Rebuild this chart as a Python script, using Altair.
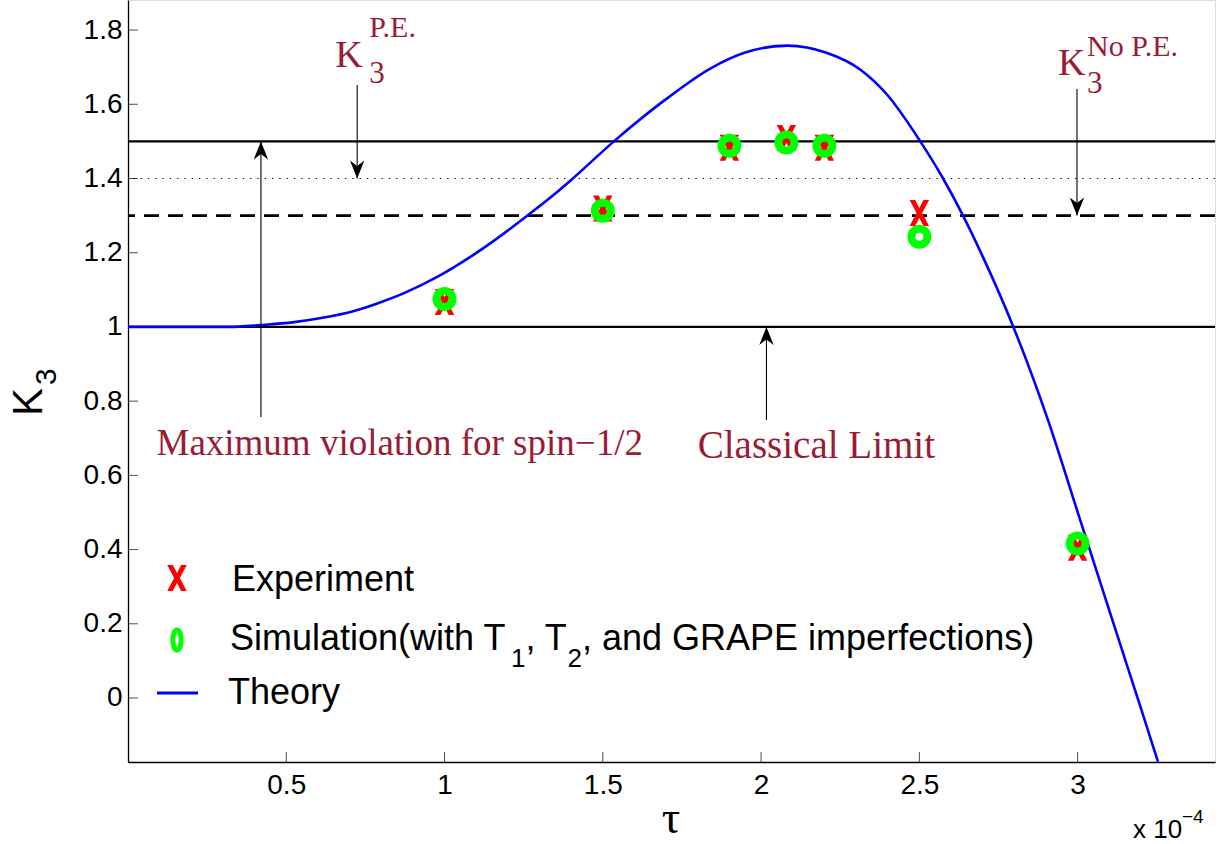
import altair as alt
import pandas as pd

# ---------------- data (tau in units of 1e-4) ----------------
theory_tau = [0.0, 0.2, 0.32, 0.42, 0.525, 0.61, 0.714, 0.79, 0.872, 0.98, 1.084, 1.188, 1.262,
              1.345, 1.40, 1.535, 1.683, 1.841, 1.945, 2.083, 2.209, 2.314, 2.399,
              2.503, 2.575, 2.638, 2.70, 2.797, 2.904, 3.008, 3.125, 3.197, 3.254]
theory_k3 = [1.0, 1.0, 1.0, 1.005, 1.013, 1.024, 1.043, 1.064, 1.091, 1.136, 1.19, 1.252, 1.30,
             1.356, 1.396, 1.50, 1.603, 1.697, 1.738, 1.758, 1.738, 1.693, 1.625,
             1.50, 1.40, 1.30, 1.19, 1.0, 0.755, 0.48, 0.17, -0.02, -0.172]

point_tau = [1.0, 1.5, 1.9, 2.08, 2.2, 2.5, 3.0]
experiment_k3 = [1.067, 1.319, 1.483, 1.509, 1.483, 1.307, 0.405]
simulation_k3 = [1.075, 1.313, 1.488, 1.497, 1.488, 1.243, 0.416]

solid_levels = [1.0, 1.5]
dotted_levels = [1.4]
dashed_levels = [1.3]

x_ticks = [0.5, 1, 1.5, 2, 2.5, 3]
y_ticks = [0, 0.2, 0.4, 0.6, 0.8, 1, 1.2, 1.4, 1.6, 1.8]

X_DOMAIN = [0, 3.434]
Y_DOMAIN = [-0.1725, 1.881]

RED_TEXT = "#9B1B36"
SERIF = "Liberation Serif"
SANS = "Liberation Sans"

theory = pd.DataFrame({"tau": theory_tau, "k3": theory_k3})
points = pd.DataFrame({"tau": point_tau, "exp": experiment_k3, "sim": simulation_k3})

xs = alt.Scale(domain=X_DOMAIN, nice=False, zero=False)
ys = alt.Scale(domain=Y_DOMAIN, nice=False, zero=False)

x_axis = alt.Axis(values=x_ticks, format="~g", title=None, ticks=False, grid=False,
                  labelFont=SANS, labelFontSize=28, labelColor="black",
                  domainColor="black", domainWidth=1.3, labelPadding=9, labelFlush=False)
y_axis = alt.Axis(values=y_ticks, format="~g", title=None, ticks=False, grid=False,
                  labelFont=SANS, labelFontSize=28, labelColor="black",
                  domainColor="black", domainWidth=1.3, labelPadding=6)

X = lambda f: alt.X(f, type="quantitative", scale=xs, axis=x_axis)
Y = lambda f: alt.Y(f, type="quantitative", scale=ys, axis=y_axis)

# reference lines
lv_solid = pd.DataFrame({"y": solid_levels})
lv_dot = pd.DataFrame({"y": dotted_levels})
lv_dash = pd.DataFrame({"y": dashed_levels})
solid = alt.Chart(lv_solid).mark_rule(color="black", strokeWidth=2.3).encode(y=Y("y"))
dotted = alt.Chart(lv_dot).mark_rule(color="black", strokeWidth=1.2, strokeDash=[1.3, 6]).encode(y=Y("y"))
dashed = alt.Chart(lv_dash).mark_rule(color="black", strokeWidth=2.6, strokeDash=[15, 9]).encode(y=Y("y"))

# inward ticks
xt = alt.Chart(pd.DataFrame({"t": x_ticks})).mark_tick(
    orient="vertical", size=10, thickness=1, color="black").encode(x=X("t"), y=alt.value(757))
yt = alt.Chart(pd.DataFrame({"t": y_ticks})).mark_tick(
    orient="horizontal", size=10, thickness=1, color="black").encode(y=Y("t"), x=alt.value(5))

# theory curve
line = alt.Chart(theory).mark_line(color="#0000FF", strokeWidth=2.6, interpolate="monotone",
                                   clip=True).encode(x=X("tau"), y=Y("k3"))

X_SHAPE = "M-0.75,-1 L-0.32,-1 L0,-0.38 L0.32,-1 L0.75,-1 L0.22,0 L0.75,1 L0.32,1 L0,0.38 L-0.32,1 L-0.75,1 L-0.22,0 Z"
exp_pts = alt.Chart(points).mark_point(shape=X_SHAPE, filled=True, color="#FF0000",
                                       size=676, opacity=1).encode(x=X("tau"), y=Y("exp"))
sim_pts = alt.Chart(points).mark_point(shape="circle", filled=False, color="#00FF00",
                                       size=256, strokeWidth=8, opacity=1).encode(x=X("tau"), y=Y("sim"))

# arrows (annotation)
arrow_x = [0.724, 2.998, 0.42, 2.017]
arrow_from = [1.652, 1.641, 0.757, 0.749]
arrow_to = [1.4, 1.3, 1.5, 1.0]
arrows = pd.DataFrame({"x": arrow_x, "y": arrow_from, "y2": arrow_to})
shafts = alt.Chart(arrows).mark_rule(color="black", strokeWidth=1.1).encode(
    x=X("x"), y=Y("y"), y2="y2")
DOWN = "M0,1 L-0.8,-1 L0,-0.4 L0.8,-1 Z"
UP = "M0,-1 L-0.8,1 L0,0.4 L0.8,1 Z"
down_heads = alt.Chart(arrows.iloc[:2]).mark_point(shape=DOWN, filled=True, color="black",
                                                   size=324, opacity=1, yOffset=-9).encode(
    x=X("x"), y=Y("y2"))
up_heads = alt.Chart(arrows.iloc[2:]).mark_point(shape=UP, filled=True, color="black",
                                                 size=324, opacity=1, yOffset=9).encode(
    x=X("x"), y=Y("y2"))

# annotation texts (data coordinates)
ann_text = ["K", "P.E.", "3", "K", "No P.E.", "3",
            "Maximum violation for spin\u22121/2", "Classical Limit"]
ann_x = [0.655, 0.762, 0.762, 2.938, 3.030, 3.030, 0.09, 1.80]
ann_y = [1.70, 1.782, 1.658, 1.679, 1.730, 1.631, 0.655, 0.647]
ann_fs = [38, 30, 31, 38, 30, 31, 37, 39]
ann = pd.DataFrame({"text": ann_text, "x": ann_x, "y": ann_y, "fs": ann_fs})
ann_layer = alt.Chart(ann).mark_text(font=SERIF, color=RED_TEXT, align="left",
                                     baseline="alphabetic").encode(
    x=X("x"), y=Y("y"), text="text:N", size=alt.Size("fs:Q", scale=None))

# ---------- legend & axis titles (pixel positions relative to plot area) ----------
one = pd.DataFrame({"a": [0]})


def ptext(txt, x, y, fs, font=SANS, align="left", angle=0, color="black", baseline="alphabetic"):
    kw = dict(text=txt, font=font, fontSize=fs, align=align, baseline=baseline, color=color)
    if angle:
        kw["angle"] = angle
    return alt.Chart(one).mark_text(**kw).encode(x=alt.value(x), y=alt.value(y))


leg_exp = alt.Chart(one).mark_point(shape=X_SHAPE, filled=True, color="#FF0000", size=676,
                                    opacity=1).encode(x=alt.value(49), y=alt.value(578))
ELLIPSE = "M0,-1 C0.55,-1 0.55,1 0,1 C-0.55,1 -0.55,-1 0,-1 Z"
leg_sim = alt.Chart(one).mark_point(shape=ELLIPSE, filled=False, color="#00FF00", size=400,
                                    strokeWidth=5, opacity=1).encode(x=alt.value(49), y=alt.value(640))
leg_line = alt.Chart(one).mark_rule(color="#0000FF", strokeWidth=3).encode(
    x=alt.value(29), x2=alt.value(70), y=alt.value(693))

legend_layers = [
    leg_exp, leg_sim, leg_line,
    ptext("Experiment", 104, 591, 36),
    ptext("Simulation(with T", 102, 650, 36),
    ptext("1", 383, 667, 26),
    ptext(", T", 397.5, 650, 36),
    ptext("2", 439.5, 667, 26),
    ptext(", and GRAPE imperfections)", 454, 650, 36),
    ptext("Theory", 100, 704, 36),
    # axis titles
    ptext("K", -86, 416, 42, angle=270),
    ptext("3", -72, 385, 30, angle=270),
    ptext("\u03c4", 543, 833, 46, font=SERIF, align="center"),
    ptext("x 10", 1005, 838, 26),
    ptext("\u22124", 1054, 823, 19),
]

chart = alt.layer(
    solid, dotted, dashed, xt, yt, line, exp_pts, sim_pts, shafts, down_heads, up_heads,
    ann_layer, *legend_layers
).properties(
    width=1087, height=762,
    padding={"left": 128, "top": 0, "right": 13, "bottom": 82},
    autosize=alt.AutoSizeParams(type="none"),
).configure_view(strokeWidth=0).configure(background="white")

chart.save("out.html", embed_options={"renderer": "svg", "actions": False})
